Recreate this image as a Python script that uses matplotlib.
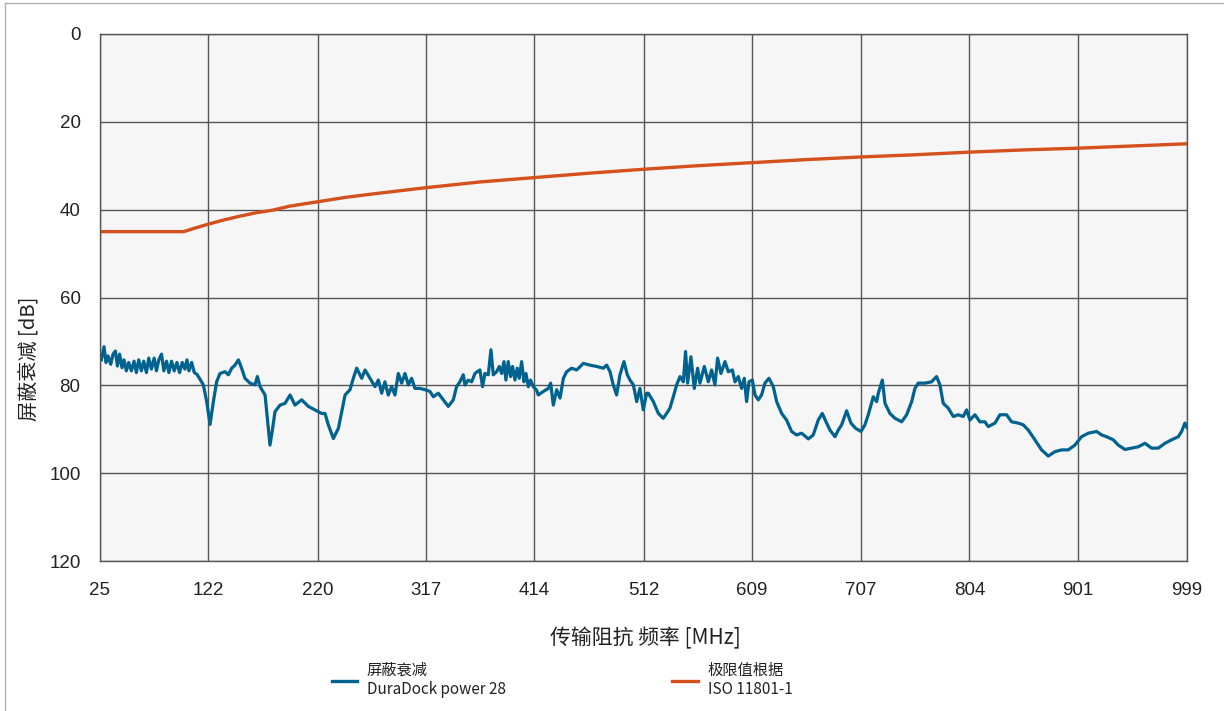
import matplotlib
matplotlib.use('Agg')
import matplotlib.pyplot as plt
from matplotlib.lines import Line2D

freq = [26.2, 28.6, 30.4, 32.2, 34.6, 36.7, 38.8, 40.6, 42.6, 44.7, 46.5, 48.6, 50.7, 53.1, 55.5, 57.6,
        59.7, 62.1, 64.2, 66.6, 68.7, 71.1, 73.5, 75.6, 77.7, 80.1, 82.2, 84.6, 86.7, 89.1, 91.5, 93.9,
        96.3, 98.7, 101.1, 102.9, 104.7, 107.1, 109.5, 111.9, 114.6, 117.6,
        120.6, 123.6, 126.6, 129.5, 132.5,
        137.0, 140.0, 143.0, 146.0, 149.0, 151.9, 154.9, 159.4, 163.9, 166.0, 168.4, 172.9, 175.3, 177.3,
        179.7, 181.8, 186.3, 190.8, 195.3, 199.7, 205.7, 211.7, 217.7, 223.6, 226.6, 229.6, 234.1, 238.6,
        241.6, 244.6, 249.0, 252.0, 255.0, 259.5, 262.5, 266.9,
        271.4, 274.4, 277.4, 280.3, 283.3, 286.3, 289.3, 292.3, 295.3, 298.3, 301.3, 304.2, 307.2, 311.7,
        316.2, 320.7, 323.7, 328.1, 332.6, 337.1, 341.6,
        344.5, 347.5, 350.5, 352.0, 355.0, 358.0, 361.0, 363.0, 365.4, 367.8, 369.9, 372.9, 375.3, 377.4,
        380.4, 382.8, 384.9, 387.0, 388.7, 390.8, 392.9, 394.7, 396.8, 398.9, 400.7, 402.8, 404.9, 406.7,
        408.8, 410.8, 413.2, 416.2,
        417.7, 422.2, 426.7, 428.8, 431.2, 434.2, 437.2, 440.2, 443.1, 447.6, 452.1,
        458.1, 464.0, 470.0, 476.0, 479.0, 482.0, 484.9, 487.9, 490.9, 494.5, 497.5, 499.9, 502.9, 505.9,
        508.8, 511.8, 514.8,
        516.3, 520.8, 525.3, 529.7, 532.7, 535.7, 538.7, 541.7, 544.7, 547.7, 549.7, 551.5, 554.5, 557.5,
        560.5, 562.6, 566.5, 570.1, 573.0, 576.0, 578.4, 581.4, 585.0, 588.0, 591.6, 594.0, 596.9, 599.9,
        602.3, 604.4, 606.5, 609.5, 611.9, 614.9, 617.8, 620.8, 624.4, 628.3, 631.3, 635.8, 640.2, 644.7,
        649.2, 653.7, 659.7, 664.1, 668.6, 672.2, 676.1, 679.1, 683.6, 686.5, 689.5, 694.0, 697.9, 702.1,
        706.9, 710.4, 713.4, 717.9, 720.9, 722.4, 726.0, 728.4, 732.8, 737.3, 743.3, 747.8, 752.3, 755.2,
        758.2, 764.2, 770.1, 774.6, 777.6, 780.6, 785.1, 789.6, 794.0, 798.5, 801.5, 804.5, 809.0, 813.4,
        817.9, 820.9, 826.9, 831.4, 837.3, 841.8, 847.8, 852.3, 856.8, 862.7, 868.7, 874.7, 880.7, 886.6,
        892.6, 898.6, 904.5, 910.5, 918.0, 922.5, 926.9, 932.9, 937.4, 943.4, 949.4, 955.3, 961.3, 967.3,
        973.3, 979.2, 985.2, 991.2, 994.2, 997.1, 999.0]
atten = [74.2, 71.2, 74.8, 73.3, 75.2, 72.9, 72.2, 75.6, 72.9, 76.0, 74.2, 76.7, 74.8, 76.7, 74.5, 77.1,
         74.2, 76.7, 74.5, 77.1, 73.8, 76.3, 73.8, 76.7, 74.2, 72.9, 76.7, 74.5, 77.1, 74.5, 76.7, 74.8,
         77.1, 74.8, 76.3, 74.2, 76.7, 74.8, 77.1, 77.5, 78.6, 79.9,
         83.7, 88.9, 83.7, 79.2, 77.3,
         76.9, 77.6, 76.1, 75.4, 74.2, 76.1, 78.4, 79.5, 79.9, 78.0, 80.3, 82.2, 88.3, 93.6,
         89.8, 86.0, 84.5, 84.1, 82.2, 84.5, 83.3, 84.8, 85.6, 86.4, 86.4, 89.0, 92.1, 89.8,
         86.0, 82.2, 81.0, 78.4, 76.1, 78.4, 76.5, 78.4,
         80.3, 78.8, 81.8, 79.2, 82.2, 80.3, 82.2, 77.3, 79.5, 77.3, 79.9, 78.4, 80.7, 80.7,
         81.0, 81.4, 82.6, 81.8, 83.3, 84.8, 83.3,
         80.3, 79.2, 77.6, 79.9, 78.8, 79.2, 77.3, 76.9, 76.5, 80.3, 77.3, 77.6, 71.9, 77.6,
         76.9, 75.7, 77.3, 74.6, 78.8, 74.6, 78.0, 75.7, 78.8, 76.1, 78.4, 74.6, 79.2, 77.3,
         80.3, 78.8, 80.3, 81.1,
         82.2, 81.4, 80.7, 79.5, 84.5, 81.0, 82.9, 78.4, 76.9, 76.1, 76.5,
         75.0, 75.4, 75.7, 76.1, 75.4, 76.9, 79.9, 82.2, 77.6, 74.6, 77.6, 78.8, 79.9, 83.7,
         80.7, 85.6, 81.8,
         81.8, 83.7, 86.4, 87.5, 86.4, 85.2, 82.6, 79.9, 78.0, 79.2, 72.3, 79.5, 73.5, 80.7,
         76.1, 79.5, 75.7, 79.2, 76.5, 79.9, 73.8, 77.3, 74.6, 76.9, 76.5, 79.2, 78.0, 80.7,
         78.4, 83.7, 79.2, 78.8, 82.2, 83.3, 82.2, 79.5, 78.4, 80.3, 83.7, 86.4, 87.9, 90.5,
         91.3, 90.9, 92.2, 91.3, 87.9, 86.4, 88.6, 90.2, 91.7, 90.2, 89.0, 85.8, 88.6, 89.8,
         90.5, 89.0, 86.7, 82.6, 83.7, 81.8, 78.8, 84.1, 86.4, 87.5, 88.3, 86.7, 83.7, 80.7,
         79.5, 79.5, 79.2, 78.0, 79.9, 84.1, 85.2, 87.1, 86.7, 87.1, 85.6, 87.9, 86.7, 88.3,
         88.3, 89.4, 88.6, 86.7, 86.7, 88.3, 88.6, 89.0, 90.2, 92.4, 94.7, 96.1, 95.1, 94.7,
         94.7, 93.6, 91.7, 90.9, 90.5, 91.3, 91.7, 92.4, 93.6, 94.6, 94.3, 94.0, 93.2, 94.3,
         94.3, 93.2, 92.4, 91.7, 90.5, 88.6, 89.6]

# limit values ISO 11801-1
lim_freq = [25, 100, 110, 122, 135, 150, 165, 180, 195, 220, 245, 270, 290, 317, 365, 414, 463, 512,
            560, 609, 658, 707, 755, 804, 852, 901, 950, 999]
lim_val = [45.0, 45.0, 44.2, 43.3, 42.4, 41.5, 40.7, 40.1, 39.2, 38.2, 37.2, 36.4, 35.8, 35.0, 33.7,
           32.7, 31.7, 30.8, 30.0, 29.3, 28.6, 28.0, 27.5, 26.9, 26.4, 26.0, 25.5, 25.0]

xticks = [25, 122, 220, 317, 414, 512, 609, 707, 804, 901, 999]
yticks = [0, 20, 40, 60, 80, 100, 120]

plt.rcParams['font.family'] = ['Noto Sans CJK SC', 'DejaVu Sans']

blue = '#00628f'
red = '#d4501c'
grid_c = '#555555'

fig = plt.figure(figsize=(12.24, 7.11), dpi=100)
ax = fig.add_axes([100/1224, 1 - 561/711, 1087/1224, 527/711])
ax.set_facecolor('#f6f6f6')

ax.plot(lim_freq, lim_val, color=red, lw=2.4, solid_capstyle='butt')
ax.plot(freq, atten, color=blue, lw=2.3, solid_joinstyle='round')

ax.set_xlim(25, 999)
ax.set_ylim(120, 0)
ax.set_xticks(xticks)
ax.set_yticks(yticks)
ax.tick_params(length=0, labelsize=13.5, colors='#222222')
ax.tick_params(axis='x', pad=15)
ax.tick_params(axis='y', pad=14)
for lab in ax.get_xticklabels() + ax.get_yticklabels():
    lab.set_family(['Liberation Sans', 'DejaVu Sans'])
ax.grid(True, color=grid_c, lw=1.0)
for s in ax.spines.values():
    s.set_color(grid_c)
    s.set_linewidth(1.0)

fig.text(645/1224, 1 - 638/711, '传输阻抗 频率 [MHz]', ha='center', va='center', fontsize=15, color='#222222')
fig.text(30/1224, 1 - 359/711, '屏蔽衰减 [dB]', ha='center', va='center', rotation=90, fontsize=14.5,
         color='#222222')

# thin frame around the picture
fig.add_artist(Line2D([5/1224, 5/1224], [0, 1 - 3/711], transform=fig.transFigure, color='#b0b0b0', lw=1))
fig.add_artist(Line2D([5/1224, 1], [1 - 3/711, 1 - 3/711], transform=fig.transFigure, color='#b0b0b0', lw=1))

handles = [Line2D([], [], color=blue, lw=2.4), Line2D([], [], color=red, lw=2.4)]
labels = ['屏蔽衰减\nDuraDock power 28', '极限值根据\nISO 11801-1']
fig.legend(handles, labels, loc='center', bbox_to_anchor=(562/1224, 1 - 680/711), ncol=2,
           frameon=False, fontsize=11, handlelength=1.65, handletextpad=0.65, columnspacing=10.9,
           labelcolor='#222222')

fig.savefig('out.png', dpi=100, facecolor='white')
